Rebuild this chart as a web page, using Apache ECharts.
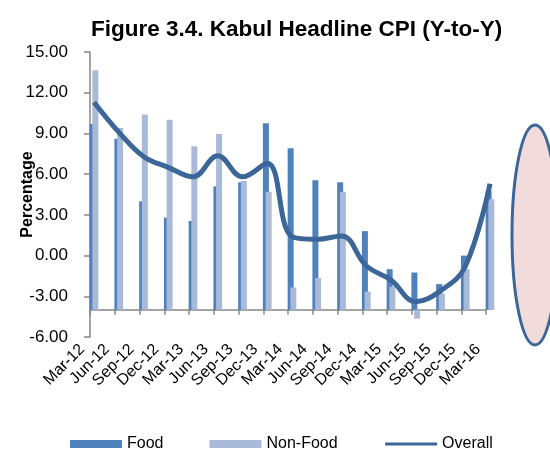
<!DOCTYPE html>
<html>
<head>
<meta charset="utf-8">
<title>Kabul Headline CPI</title>
<script src="https://cdn.jsdelivr.net/npm/echarts@6/dist/echarts.min.js"></script>
<style>
  html, body { margin: 0; padding: 0; background: #fff; }
  #cpiChart { width: 550px; height: 450px; }
</style>
</head>
<body>
<div id="cpiChart"></div>
<script>
// quarterly Y-to-Y change, %
const categories = ['Mar-12', 'Jun-12', 'Sep-12', 'Dec-12', 'Mar-13', 'Jun-13', 'Sep-13', 'Dec-13',
  'Mar-14', 'Jun-14', 'Sep-14', 'Dec-14', 'Mar-15', 'Jun-15', 'Sep-15', 'Dec-15', 'Mar-16']
const food = [9.7, 8.6, 4.0, 2.8, 2.55, 5.1, 5.4, 9.75, 7.9, 5.55, 5.4, 1.8, -1.0, -1.25, -2.1, 0.0, 4.75]
const nonFood = [13.65, 9.4, 10.4, 10.0, 8.05, 8.95, 5.5, 4.7, -2.35, -1.65, 4.7, -2.65, -2.3, -4.65, -2.8, -1.0, 4.15]
const overall = [11.3, 9.1, 7.3, 6.5, 5.8, 7.35, 5.8, 6.8, 1.4, 1.2, 1.45, -0.75, -1.8, -3.4, -2.6, -0.8, 5.3]
const yTicks = [-6, -3, 0, 3, 6, 9, 12, 15]

// excel crosses the category axis at -4, bars grow from there
const crossAt = -4
const yMin = yTicks[0], yMax = yTicks[yTicks.length - 1]
const plotTop = 52, plotBottom = 113
const plotHeight = 450 - plotTop - plotBottom
const crossOffset = -(crossAt - yMin) / (yMax - yMin) * plotHeight

const foodColor = '#4f81bd'
const nonFoodColor = '#a9b9d8'
const lineColor = '#3c6698'

function baseOf(arr) {
  return arr.map(() => crossAt)
}
function fromBase(arr) {
  return arr.map(v => v - crossAt)
}

let option = {
  animation: false,
  textStyle: { fontFamily: 'Liberation Sans, Arial, sans-serif', color: '#000' },
  title: {
    text: 'Figure 3.4. Kabul Headline CPI (Y-to-Y)',
    left: 86,
    top: 13,
    textStyle: { fontSize: 22.5, fontWeight: 'bold', color: '#000' }
  },
  legend: {
    data: [
      { name: 'Food', icon: 'rect' },
      { name: 'Non-Food', icon: 'rect' },
      { name: 'Overall', itemStyle: { color: 'transparent', borderWidth: 0 }, lineStyle: { width: 3 } }
    ],
    left: 65,
    top: 431,
    itemWidth: 52,
    itemHeight: 8,
    itemGap: 46,
    textStyle: { fontSize: 16, color: '#000' }
  },
  grid: [
    { left: 90, right: 64, top: plotTop, bottom: plotBottom, outerBoundsMode: 'none' },
    // data sits a few px right of the tick marks, like the original
    { left: 94, right: 60, top: plotTop, bottom: plotBottom, outerBoundsMode: 'none' }
  ],
  xAxis: [
    {
      gridIndex: 0,
      type: 'category',
      position: 'bottom',
      boundaryGap: false,
      data: categories,
      axisLine: { show: false },
      axisTick: { show: false },
      axisLabel: { rotate: 45, margin: 2, padding: [0, 11, 0, 0], fontSize: 16, color: '#000', interval: 0 }
    },
    {
      gridIndex: 0,
      type: 'category',
      position: 'bottom',
      offset: crossOffset,
      boundaryGap: false,
      data: categories,
      axisLine: { show: true, lineStyle: { color: '#868686', width: 1.5 } },
      axisTick: { show: true, length: 5, interval: 0, lineStyle: { color: '#868686', width: 1.5 } },
      axisLabel: { show: false }
    },
    {
      gridIndex: 1,
      type: 'category',
      boundaryGap: false,
      data: categories,
      show: false
    }
  ],
  yAxis: [
    {
      gridIndex: 0,
      type: 'value',
      min: yMin,
      max: yMax,
      interval: 3,
      name: 'Percentage',
      nameLocation: 'middle',
      nameGap: 54,
      nameMoveOverlap: false,
      nameTextStyle: { fontSize: 16, fontWeight: 'bold', color: '#000' },
      axisLine: { show: true, lineStyle: { color: '#868686', width: 1.5 } },
      axisTick: { show: true, length: 6, lineStyle: { color: '#868686', width: 1.5 } },
      axisLabel: { fontSize: 17, color: '#000', margin: 22, formatter: v => v.toFixed(2) },
      splitLine: { show: false }
    },
    {
      gridIndex: 1,
      type: 'value',
      min: yMin,
      max: yMax,
      show: false
    }
  ],
  series: [
    {
      name: 'foodBase',
      type: 'bar',
      xAxisIndex: 2,
      yAxisIndex: 1,
      stack: 'food',
      stackStrategy: 'all',
      barWidth: 6,
      barGap: '-55%',
      silent: true,
      itemStyle: { color: 'transparent' },
      data: baseOf(food)
    },
    {
      name: 'Food',
      type: 'bar',
      xAxisIndex: 2,
      yAxisIndex: 1,
      stack: 'food',
      stackStrategy: 'all',
      barWidth: 6,
      barGap: '-55%',
      itemStyle: { color: foodColor },
      data: fromBase(food)
    },
    {
      name: 'nonFoodBase',
      type: 'bar',
      xAxisIndex: 2,
      yAxisIndex: 1,
      stack: 'nonFood',
      stackStrategy: 'all',
      barWidth: 6,
      barGap: '-55%',
      silent: true,
      itemStyle: { color: 'transparent' },
      data: baseOf(nonFood)
    },
    {
      name: 'Non-Food',
      type: 'bar',
      xAxisIndex: 2,
      yAxisIndex: 1,
      stack: 'nonFood',
      stackStrategy: 'all',
      barWidth: 6,
      barGap: '-55%',
      itemStyle: { color: nonFoodColor },
      data: fromBase(nonFood)
    },
    {
      name: 'Overall',
      type: 'line',
      xAxisIndex: 2,
      yAxisIndex: 1,
      smooth: 0.4,
      symbol: 'none',
      itemStyle: { color: lineColor },
      lineStyle: { color: lineColor, width: 5 },
      z: 5,
      data: overall
    }
  ],
  graphic: [
    {
      type: 'ellipse',
      shape: { cx: 535, cy: 235, rx: 23, ry: 110 },
      style: { fill: '#f2dcdb', stroke: lineColor, lineWidth: 3 }
    }
  ]
}

let myChart = echarts.init(document.getElementById('cpiChart'))
myChart.setOption(option, true)
</script>
</body>
</html>
